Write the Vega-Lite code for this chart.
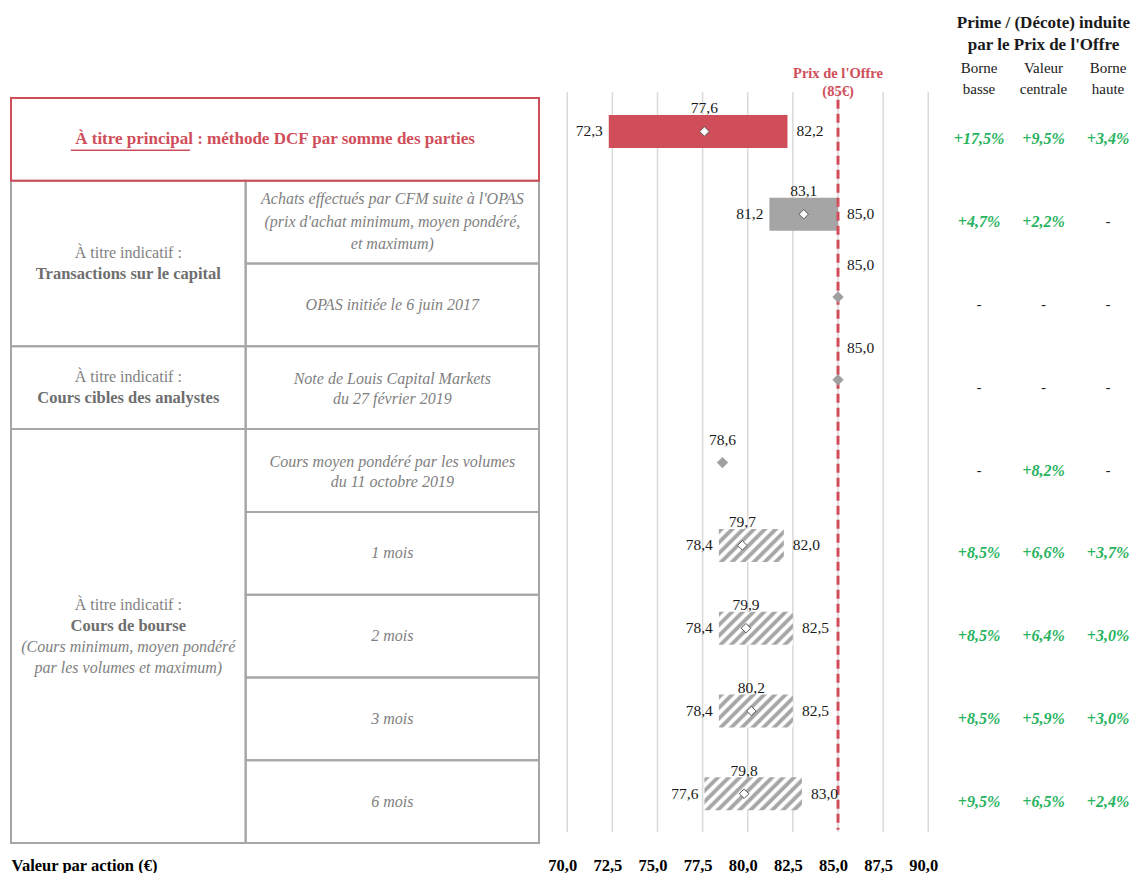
{
"$schema":"https://vega.github.io/schema/vega-lite/v6.json",
"background":"white",
"padding":{"left":10,"top":0,"right":0,"bottom":0},
"bounds":"flush",
"spacing":0,
"config":{"view":{"stroke":null},"font":"Liberation Serif","locale":{"number":{"decimal":",","thousands":" ","grouping":[3],"currency":["","€"]}}},
"datasets":{
"rows":[
{"r":0,"name":"DCF somme des parties","kind":"main","min":72.3,"mid":77.6,"max":82.2},
{"r":1,"name":"Achats CFM","kind":"solid","min":81.2,"mid":83.1,"max":85.0},
{"r":2,"name":"OPAS","kind":"point","mid":85.0},
{"r":3,"name":"Note LCM","kind":"point","mid":85.0},
{"r":4,"name":"CMPV","kind":"point","mid":78.6},
{"r":5,"name":"1 mois","kind":"hatch","min":78.4,"mid":79.7,"max":82.0},
{"r":6,"name":"2 mois","kind":"hatch","min":78.4,"mid":79.9,"max":82.5},
{"r":7,"name":"3 mois","kind":"hatch","min":78.4,"mid":80.2,"max":82.5},
{"r":8,"name":"6 mois","kind":"hatch","min":77.6,"mid":79.8,"max":83.0}
],
"cells":[
{"col":"full","r0":0,"r1":1,"t_bold":"À titre principal : méthode DCF par somme des parties"},
{"col":"group","r0":1,"r1":3,"t_normal":"À titre indicatif :","t_bold":"Transactions sur le capital"},
{"col":"group","r0":3,"r1":4,"t_normal":"À titre indicatif :","t_bold":"Cours cibles des analystes"},
{"col":"group","r0":4,"r1":9,"t_normal":"À titre indicatif :","t_bold":"Cours de bourse","t_italic":"(Cours minimum, moyen pondéré\npar les volumes et maximum)"},
{"col":"detail","r0":1,"r1":2,"t_italic":"Achats effectués par CFM suite à l'OPAS\n(prix d'achat minimum, moyen pondéré,\net maximum)"},
{"col":"detail","r0":2,"r1":3,"t_italic":"OPAS initiée le 6 juin 2017"},
{"col":"detail","r0":3,"r1":4,"t_italic":"Note de Louis Capital Markets\ndu 27 février 2019"},
{"col":"detail","r0":4,"r1":5,"t_italic":"Cours moyen pondéré par les volumes\ndu 11 octobre 2019"},
{"col":"detail","r0":5,"r1":6,"t_italic":"1 mois"},
{"col":"detail","r0":6,"r1":7,"t_italic":"2 mois"},
{"col":"detail","r0":7,"r1":8,"t_italic":"3 mois"},
{"col":"detail","r0":8,"r1":9,"t_italic":"6 mois"}
],
"pct":[
{"r":0,"col":"Borne basse","v":"+17,5%"},{"r":0,"col":"Valeur centrale","v":"+9,5%"},{"r":0,"col":"Borne haute","v":"+3,4%"},
{"r":1,"col":"Borne basse","v":"+4,7%"},{"r":1,"col":"Valeur centrale","v":"+2,2%"},{"r":1,"col":"Borne haute","v":"-"},
{"r":2,"col":"Borne basse","v":"-"},{"r":2,"col":"Valeur centrale","v":"-"},{"r":2,"col":"Borne haute","v":"-"},
{"r":3,"col":"Borne basse","v":"-"},{"r":3,"col":"Valeur centrale","v":"-"},{"r":3,"col":"Borne haute","v":"-"},
{"r":4,"col":"Borne basse","v":"-"},{"r":4,"col":"Valeur centrale","v":"+8,2%"},{"r":4,"col":"Borne haute","v":"-"},
{"r":5,"col":"Borne basse","v":"+8,5%"},{"r":5,"col":"Valeur centrale","v":"+6,6%"},{"r":5,"col":"Borne haute","v":"+3,7%"},
{"r":6,"col":"Borne basse","v":"+8,5%"},{"r":6,"col":"Valeur centrale","v":"+6,4%"},{"r":6,"col":"Borne haute","v":"+3,0%"},
{"r":7,"col":"Borne basse","v":"+8,5%"},{"r":7,"col":"Valeur centrale","v":"+5,9%"},{"r":7,"col":"Borne haute","v":"+3,0%"},
{"r":8,"col":"Borne basse","v":"+9,5%"},{"r":8,"col":"Valeur centrale","v":"+6,5%"},{"r":8,"col":"Borne haute","v":"+2,4%"}
],
"ticks":[{"v":70},{"v":72.5},{"v":75},{"v":77.5},{"v":80},{"v":82.5},{"v":85},{"v":87.5},{"v":90}],
"offer":[{"price":85,"label":"Prix de l'Offre\n(85€)"}],
"colhead":[{"col":"Borne basse","h":"Borne\nbasse"},{"col":"Valeur centrale","h":"Valeur\ncentrale"},{"col":"Borne haute","h":"Borne\nhaute"}],
"title":[{"col":"Valeur centrale","t":"Prime / (Décote) induite\npar le Prix de l'Offre"}]
},
"hconcat":[
{
"width":528,"height":850,
"resolve":{"axis":{"x":"independent","y":"independent"}},
"layer":[
{"data":{"name":"cells"},"transform":[{"filter":"datum.col=='group'"}],
 "mark":{"type":"rect","fill":"white","fillOpacity":0,"stroke":"#a6a6a6","strokeWidth":2},
 "encoding":{
  "x":{"datum":0,"type":"quantitative","scale":{"domain":[0,9],"nice":false,"zero":false},"axis":{"title":"Valeur par action (€)","labels":false,"ticks":false,"domain":false,"grid":false,"titleAnchor":"start","titleAlign":"left","titleFontWeight":"bold","titleFontSize":16.5,"titleColor":"#000","titlePadding":7,"titleFont":"Liberation Serif"}},
  "x2":{"datum":4},
  "y":{"field":"r0","type":"quantitative","scale":{"domain":[-1.18386,9.08432],"reverse":true,"nice":false,"zero":false},"axis":null},
  "y2":{"field":"r1"}}},
{"data":{"name":"cells"},"transform":[{"filter":"datum.col=='detail'"}],
 "mark":{"type":"rect","fill":"white","fillOpacity":0,"stroke":"#a6a6a6","strokeWidth":2},
 "encoding":{
  "x":{"datum":4,"type":"quantitative","scale":{"domain":[0,9],"nice":false,"zero":false},"axis":null},
  "x2":{"datum":9},
  "y":{"field":"r0","type":"quantitative","scale":{"domain":[-1.18386,9.08432],"reverse":true,"nice":false,"zero":false},"axis":null},
  "y2":{"field":"r1"}}},
{"data":{"name":"cells"},"transform":[{"filter":"datum.col=='full'"}],
 "mark":{"type":"rect","fill":"white","fillOpacity":0,"stroke":"#d04e5a","strokeWidth":2},
 "encoding":{
  "x":{"datum":0,"type":"quantitative","scale":{"domain":[0,9],"nice":false,"zero":false},"axis":null},
  "x2":{"datum":9},
  "y":{"field":"r0","type":"quantitative","scale":{"domain":[-1.18386,9.08432],"reverse":true,"nice":false,"zero":false},"axis":null},
  "y2":{"field":"r1"}}},
{"data":{"name":"cells"},"transform":[{"filter":"datum.col=='full'"},{"fold":["r0","r1"],"as":["k","rv"]}],
 "mark":{"type":"text","font":"Liberation Serif","fontSize":17,"fontWeight":"bold","color":"#d04e5a","align":"center","baseline":"middle"},
 "encoding":{
  "x":{"datum":4.5,"type":"quantitative","scale":{"domain":[0,9],"nice":false,"zero":false},"axis":null},
  "y":{"field":"rv","aggregate":"mean","type":"quantitative","scale":{"domain":[-1.18386,9.08432],"reverse":true,"nice":false,"zero":false},"axis":null},
  "text":{"field":"t_bold"},"detail":{"field":"r0"}}},
{"data":{"name":"cells"},"transform":[{"filter":"datum.col=='full'"}],
 "mark":{"type":"rule","color":"#d04e5a","strokeWidth":1.5},
 "encoding":{
  "x":{"datum":1.02,"type":"quantitative","scale":{"domain":[0,9],"nice":false,"zero":false},"axis":null},
  "x2":{"datum":3.05},
  "y":{"datum":0.63,"type":"quantitative","scale":{"domain":[-1.18386,9.08432],"reverse":true,"nice":false,"zero":false},"axis":null}}},
{"data":{"name":"cells"},"transform":[{"filter":"datum.col=='group' && !datum.t_italic"},{"fold":["r0","r1"],"as":["k","rv"]}],
 "mark":{"type":"text","font":"Liberation Serif","fontSize":16,"color":"#7f7f7f","align":"center","baseline":"middle","dy":-10.5},
 "encoding":{
  "x":{"datum":2,"type":"quantitative","scale":{"domain":[0,9],"nice":false,"zero":false},"axis":null},
  "y":{"field":"rv","aggregate":"mean","type":"quantitative","scale":{"domain":[-1.18386,9.08432],"reverse":true,"nice":false,"zero":false},"axis":null},
  "text":{"field":"t_normal"},"detail":{"field":"r0"}}},
{"data":{"name":"cells"},"transform":[{"filter":"datum.col=='group' && !datum.t_italic"},{"fold":["r0","r1"],"as":["k","rv"]}],
 "mark":{"type":"text","font":"Liberation Serif","fontSize":16.5,"fontWeight":"bold","color":"#6e6e6e","align":"center","baseline":"middle","dy":10.5},
 "encoding":{
  "x":{"datum":2,"type":"quantitative","scale":{"domain":[0,9],"nice":false,"zero":false},"axis":null},
  "y":{"field":"rv","aggregate":"mean","type":"quantitative","scale":{"domain":[-1.18386,9.08432],"reverse":true,"nice":false,"zero":false},"axis":null},
  "text":{"field":"t_bold"},"detail":{"field":"r0"}}},
{"data":{"name":"cells"},"transform":[{"filter":"datum.col=='group' && datum.t_italic"},{"fold":["r0","r1"],"as":["k","rv"]}],
 "mark":{"type":"text","font":"Liberation Serif","fontSize":16,"color":"#7f7f7f","align":"center","baseline":"middle","dy":-31.5},
 "encoding":{
  "x":{"datum":2,"type":"quantitative","scale":{"domain":[0,9],"nice":false,"zero":false},"axis":null},
  "y":{"field":"rv","aggregate":"mean","type":"quantitative","scale":{"domain":[-1.18386,9.08432],"reverse":true,"nice":false,"zero":false},"axis":null},
  "text":{"field":"t_normal"},"detail":{"field":"r0"}}},
{"data":{"name":"cells"},"transform":[{"filter":"datum.col=='group' && datum.t_italic"},{"fold":["r0","r1"],"as":["k","rv"]}],
 "mark":{"type":"text","font":"Liberation Serif","fontSize":16.5,"fontWeight":"bold","color":"#6e6e6e","align":"center","baseline":"middle","dy":-10.5},
 "encoding":{
  "x":{"datum":2,"type":"quantitative","scale":{"domain":[0,9],"nice":false,"zero":false},"axis":null},
  "y":{"field":"rv","aggregate":"mean","type":"quantitative","scale":{"domain":[-1.18386,9.08432],"reverse":true,"nice":false,"zero":false},"axis":null},
  "text":{"field":"t_bold"},"detail":{"field":"r0"}}},
{"data":{"name":"cells"},"transform":[{"filter":"datum.col=='group' && datum.t_italic"},{"fold":["r0","r1"],"as":["k","rv"]}],
 "mark":{"type":"text","font":"Liberation Serif","fontSize":16,"fontStyle":"italic","color":"#7f7f7f","align":"center","baseline":"middle","dy":11,"lineBreak":"\n","lineHeight":21},
 "encoding":{
  "x":{"datum":2,"type":"quantitative","scale":{"domain":[0,9],"nice":false,"zero":false},"axis":null},
  "y":{"field":"rv","aggregate":"mean","type":"quantitative","scale":{"domain":[-1.18386,9.08432],"reverse":true,"nice":false,"zero":false},"axis":null},
  "text":{"field":"t_italic"},"detail":{"field":"r0"}}},
{"data":{"name":"cells"},"transform":[{"filter":"datum.col=='detail' && indexof(datum.t_italic,'\\n')<0"},{"fold":["r0","r1"],"as":["k","rv"]}],
 "mark":{"type":"text","font":"Liberation Serif","fontSize":16,"fontStyle":"italic","color":"#7f7f7f","align":"center","baseline":"middle"},
 "encoding":{
  "x":{"datum":6.5,"type":"quantitative","scale":{"domain":[0,9],"nice":false,"zero":false},"axis":null},
  "y":{"field":"rv","aggregate":"mean","type":"quantitative","scale":{"domain":[-1.18386,9.08432],"reverse":true,"nice":false,"zero":false},"axis":null},
  "text":{"field":"t_italic"},"detail":{"field":"r0"}}},
{"data":{"name":"cells"},"transform":[{"filter":"datum.col=='detail' && length(split(datum.t_italic,'\\n'))==2"},{"fold":["r0","r1"],"as":["k","rv"]}],
 "mark":{"type":"text","font":"Liberation Serif","fontSize":16,"fontStyle":"italic","color":"#7f7f7f","align":"center","baseline":"middle","lineBreak":"\n","lineHeight":20,"dy":-9},
 "encoding":{
  "x":{"datum":6.5,"type":"quantitative","scale":{"domain":[0,9],"nice":false,"zero":false},"axis":null},
  "y":{"field":"rv","aggregate":"mean","type":"quantitative","scale":{"domain":[-1.18386,9.08432],"reverse":true,"nice":false,"zero":false},"axis":null},
  "text":{"field":"t_italic"},"detail":{"field":"r0"}}},
{"data":{"name":"cells"},"transform":[{"filter":"datum.col=='detail' && length(split(datum.t_italic,'\\n'))==3"},{"fold":["r0","r1"],"as":["k","rv"]}],
 "mark":{"type":"text","font":"Liberation Serif","fontSize":16,"fontStyle":"italic","color":"#7f7f7f","align":"center","baseline":"middle","lineBreak":"\n","lineHeight":22.5,"dy":-23},
 "encoding":{
  "x":{"datum":6.5,"type":"quantitative","scale":{"domain":[0,9],"nice":false,"zero":false},"axis":null},
  "y":{"field":"rv","aggregate":"mean","type":"quantitative","scale":{"domain":[-1.18386,9.08432],"reverse":true,"nice":false,"zero":false},"axis":null},
  "text":{"field":"t_italic"},"detail":{"field":"r0"}}}
]
},
{
"width":402,"height":850,
"resolve":{"axis":{"x":"independent","y":"independent"}},
"layer":[
{"data":{"name":"ticks"},
 "mark":{"type":"rule","color":"#d9d9d9","strokeWidth":1.5},
 "encoding":{
  "x":{"field":"v","type":"quantitative","scale":{"domain":[68.435,90.706],"nice":false,"zero":false},"axis":{"values":[70,72.5,75,77.5,80,82.5,85,87.5,90],"format":".1f","labelFont":"Liberation Serif","labelFontSize":16.5,"labelFontWeight":"bold","labelColor":"#000","labelPadding":7,"labelOffset":-5,"domain":false,"ticks":false,"grid":false,"title":null,"labelFlush":false,"labelOverlap":false}},
  "y":{"datum":-0.07,"type":"quantitative","scale":{"domain":[-1.18386,9.08432],"reverse":true,"nice":false,"zero":false},"axis":null},
  "y2":{"datum":8.87}}},
{"data":{"name":"rows"},"transform":[{"filter":"datum.kind=='main'"}],
 "mark":{"type":"rect","color":"#d04e5a","yOffset":17,"y2Offset":50},
 "encoding":{
  "x":{"field":"min","type":"quantitative","scale":{"domain":[68.435,90.706],"nice":false,"zero":false},"axis":null},"x2":{"field":"max"},
  "y":{"field":"r","type":"quantitative","scale":{"domain":[-1.18386,9.08432],"reverse":true,"nice":false,"zero":false},"axis":null},"y2":{"field":"r"}}},
{"data":{"name":"rows"},"transform":[{"filter":"datum.kind=='solid'"}],
 "mark":{"type":"rect","color":"#a5a5a5","yOffset":17,"y2Offset":50},
 "encoding":{
  "x":{"field":"min","type":"quantitative","scale":{"domain":[68.435,90.706],"nice":false,"zero":false},"axis":null},"x2":{"field":"max"},
  "y":{"field":"r","type":"quantitative","scale":{"domain":[-1.18386,9.08432],"reverse":true,"nice":false,"zero":false},"axis":null},"y2":{"field":"r"}}},
{"data":{"name":"rows"},"transform":[{"filter":"datum.name=='1 mois'"}],
 "mark":{"type":"rect","yOffset":17,"y2Offset":50,"fill":{"gradient":"linear","x1":0,"y1":0,"x2":1.199,"y2":0.608,"stops":[
{"offset":0,"color":"#ffffff"},
{"offset":0.0111,"color":"#a6a6a6"},{"offset":0.0444,"color":"#a6a6a6"},{"offset":0.0667,"color":"#ffffff"},{"offset":0.1,"color":"#ffffff"},
{"offset":0.1222,"color":"#a6a6a6"},{"offset":0.1556,"color":"#a6a6a6"},{"offset":0.1778,"color":"#ffffff"},{"offset":0.2111,"color":"#ffffff"},
{"offset":0.2333,"color":"#a6a6a6"},{"offset":0.2667,"color":"#a6a6a6"},{"offset":0.2889,"color":"#ffffff"},{"offset":0.3222,"color":"#ffffff"},
{"offset":0.3444,"color":"#a6a6a6"},{"offset":0.3778,"color":"#a6a6a6"},{"offset":0.4,"color":"#ffffff"},{"offset":0.4333,"color":"#ffffff"},
{"offset":0.4556,"color":"#a6a6a6"},{"offset":0.4889,"color":"#a6a6a6"},{"offset":0.5111,"color":"#ffffff"},{"offset":0.5444,"color":"#ffffff"},
{"offset":0.5667,"color":"#a6a6a6"},{"offset":0.6,"color":"#a6a6a6"},{"offset":0.6222,"color":"#ffffff"},{"offset":0.6556,"color":"#ffffff"},
{"offset":0.6778,"color":"#a6a6a6"},{"offset":0.7111,"color":"#a6a6a6"},{"offset":0.7333,"color":"#ffffff"},{"offset":0.7667,"color":"#ffffff"},
{"offset":0.7889,"color":"#a6a6a6"},{"offset":0.8222,"color":"#a6a6a6"},{"offset":0.8444,"color":"#ffffff"},{"offset":0.8778,"color":"#ffffff"},
{"offset":0.9,"color":"#a6a6a6"},{"offset":0.9333,"color":"#a6a6a6"},{"offset":0.9556,"color":"#ffffff"},{"offset":1,"color":"#ffffff"}]}},
 "encoding":{
  "x":{"field":"min","type":"quantitative","scale":{"domain":[68.435,90.706],"nice":false,"zero":false},"axis":null},"x2":{"field":"max"},
  "y":{"field":"r","type":"quantitative","scale":{"domain":[-1.18386,9.08432],"reverse":true,"nice":false,"zero":false},"axis":null},"y2":{"field":"r"}}},
{"data":{"name":"rows"},"transform":[{"filter":"datum.name=='2 mois' || datum.name=='3 mois'"}],
 "mark":{"type":"rect","yOffset":17,"y2Offset":50,"fill":{"gradient":"linear","x1":0,"y1":0,"x2":1.206,"y2":0.537,"stops":[
{"offset":0,"color":"#ffffff"},
{"offset":0.01,"color":"#a6a6a6"},{"offset":0.04,"color":"#a6a6a6"},{"offset":0.06,"color":"#ffffff"},{"offset":0.09,"color":"#ffffff"},
{"offset":0.11,"color":"#a6a6a6"},{"offset":0.14,"color":"#a6a6a6"},{"offset":0.16,"color":"#ffffff"},{"offset":0.19,"color":"#ffffff"},
{"offset":0.21,"color":"#a6a6a6"},{"offset":0.24,"color":"#a6a6a6"},{"offset":0.26,"color":"#ffffff"},{"offset":0.29,"color":"#ffffff"},
{"offset":0.31,"color":"#a6a6a6"},{"offset":0.34,"color":"#a6a6a6"},{"offset":0.36,"color":"#ffffff"},{"offset":0.39,"color":"#ffffff"},
{"offset":0.41,"color":"#a6a6a6"},{"offset":0.44,"color":"#a6a6a6"},{"offset":0.46,"color":"#ffffff"},{"offset":0.49,"color":"#ffffff"},
{"offset":0.51,"color":"#a6a6a6"},{"offset":0.54,"color":"#a6a6a6"},{"offset":0.56,"color":"#ffffff"},{"offset":0.59,"color":"#ffffff"},
{"offset":0.61,"color":"#a6a6a6"},{"offset":0.64,"color":"#a6a6a6"},{"offset":0.66,"color":"#ffffff"},{"offset":0.69,"color":"#ffffff"},
{"offset":0.71,"color":"#a6a6a6"},{"offset":0.74,"color":"#a6a6a6"},{"offset":0.76,"color":"#ffffff"},{"offset":0.79,"color":"#ffffff"},
{"offset":0.81,"color":"#a6a6a6"},{"offset":0.84,"color":"#a6a6a6"},{"offset":0.86,"color":"#ffffff"},{"offset":0.89,"color":"#ffffff"},
{"offset":0.91,"color":"#a6a6a6"},{"offset":0.94,"color":"#a6a6a6"},{"offset":0.96,"color":"#ffffff"},{"offset":1,"color":"#ffffff"}]}},
 "encoding":{
  "x":{"field":"min","type":"quantitative","scale":{"domain":[68.435,90.706],"nice":false,"zero":false},"axis":null},"x2":{"field":"max"},
  "y":{"field":"r","type":"quantitative","scale":{"domain":[-1.18386,9.08432],"reverse":true,"nice":false,"zero":false},"axis":null},"y2":{"field":"r"}}},
{"data":{"name":"rows"},"transform":[{"filter":"datum.name=='6 mois'"}],
 "mark":{"type":"rect","yOffset":17,"y2Offset":50,"fill":{"gradient":"linear","x1":0,"y1":0,"x2":1.201,"y2":0.406,"stops":[
{"offset":0,"color":"#ffffff"},
{"offset":0.0083,"color":"#a6a6a6"},{"offset":0.0333,"color":"#a6a6a6"},{"offset":0.05,"color":"#ffffff"},{"offset":0.075,"color":"#ffffff"},
{"offset":0.0917,"color":"#a6a6a6"},{"offset":0.1167,"color":"#a6a6a6"},{"offset":0.1333,"color":"#ffffff"},{"offset":0.1583,"color":"#ffffff"},
{"offset":0.175,"color":"#a6a6a6"},{"offset":0.2,"color":"#a6a6a6"},{"offset":0.2167,"color":"#ffffff"},{"offset":0.2417,"color":"#ffffff"},
{"offset":0.2583,"color":"#a6a6a6"},{"offset":0.2833,"color":"#a6a6a6"},{"offset":0.3,"color":"#ffffff"},{"offset":0.325,"color":"#ffffff"},
{"offset":0.3417,"color":"#a6a6a6"},{"offset":0.3667,"color":"#a6a6a6"},{"offset":0.3833,"color":"#ffffff"},{"offset":0.4083,"color":"#ffffff"},
{"offset":0.425,"color":"#a6a6a6"},{"offset":0.45,"color":"#a6a6a6"},{"offset":0.4667,"color":"#ffffff"},{"offset":0.4917,"color":"#ffffff"},
{"offset":0.5083,"color":"#a6a6a6"},{"offset":0.5333,"color":"#a6a6a6"},{"offset":0.55,"color":"#ffffff"},{"offset":0.575,"color":"#ffffff"},
{"offset":0.5917,"color":"#a6a6a6"},{"offset":0.6167,"color":"#a6a6a6"},{"offset":0.6333,"color":"#ffffff"},{"offset":0.6583,"color":"#ffffff"},
{"offset":0.675,"color":"#a6a6a6"},{"offset":0.7,"color":"#a6a6a6"},{"offset":0.7167,"color":"#ffffff"},{"offset":0.7417,"color":"#ffffff"},
{"offset":0.7583,"color":"#a6a6a6"},{"offset":0.7833,"color":"#a6a6a6"},{"offset":0.8,"color":"#ffffff"},{"offset":0.825,"color":"#ffffff"},
{"offset":0.8417,"color":"#a6a6a6"},{"offset":0.8667,"color":"#a6a6a6"},{"offset":0.8833,"color":"#ffffff"},{"offset":0.9083,"color":"#ffffff"},
{"offset":0.925,"color":"#a6a6a6"},{"offset":0.95,"color":"#a6a6a6"},{"offset":0.9667,"color":"#ffffff"},{"offset":1,"color":"#ffffff"}]}},
 "encoding":{
  "x":{"field":"min","type":"quantitative","scale":{"domain":[68.435,90.706],"nice":false,"zero":false},"axis":null},"x2":{"field":"max"},
  "y":{"field":"r","type":"quantitative","scale":{"domain":[-1.18386,9.08432],"reverse":true,"nice":false,"zero":false},"axis":null},"y2":{"field":"r"}}},
{"data":{"name":"offer"},
 "mark":{"type":"rule","color":"#d04e5a","strokeWidth":3,"strokeDash":[9,5]},
 "encoding":{
  "x":{"field":"price","type":"quantitative","scale":{"domain":[68.435,90.706],"nice":false,"zero":false},"axis":null},
  "y":{"datum":0.02,"type":"quantitative","scale":{"domain":[-1.18386,9.08432],"reverse":true,"nice":false,"zero":false},"axis":null},
  "y2":{"datum":8.84}}},
{"data":{"name":"offer"},
 "mark":{"type":"text","font":"Liberation Serif","fontSize":14.5,"fontWeight":"bold","color":"#d04e5a","align":"center","baseline":"middle","lineBreak":"\n","lineHeight":18},
 "encoding":{
  "x":{"field":"price","type":"quantitative","scale":{"domain":[68.435,90.706],"nice":false,"zero":false},"axis":null},
  "y":{"datum":-0.29,"type":"quantitative","scale":{"domain":[-1.18386,9.08432],"reverse":true,"nice":false,"zero":false},"axis":null},
  "text":{"field":"label"}}},
{"data":{"name":"rows"},"transform":[{"filter":"datum.kind!='point'"}],
 "mark":{"type":"point","shape":"diamond","filled":true,"fill":"white","stroke":"#555555","strokeWidth":1,"size":90,"opacity":1,"yOffset":33.5},
 "encoding":{
  "x":{"field":"mid","type":"quantitative","scale":{"domain":[68.435,90.706],"nice":false,"zero":false},"axis":null},
  "y":{"field":"r","type":"quantitative","scale":{"domain":[-1.18386,9.08432],"reverse":true,"nice":false,"zero":false},"axis":null}}},
{"data":{"name":"rows"},"transform":[{"filter":"datum.kind=='point'"}],
 "mark":{"type":"point","shape":"diamond","filled":true,"color":"#a0a0a0","size":130,"opacity":1,"yOffset":33.5},
 "encoding":{
  "x":{"field":"mid","type":"quantitative","scale":{"domain":[68.435,90.706],"nice":false,"zero":false},"axis":null},
  "y":{"field":"r","type":"quantitative","scale":{"domain":[-1.18386,9.08432],"reverse":true,"nice":false,"zero":false},"axis":null}}},
{"data":{"name":"rows"},"transform":[{"filter":"datum.kind!='point'"}],
 "mark":{"type":"text","font":"Liberation Serif","fontSize":15.5,"color":"#1a1a1a","align":"right","baseline":"middle","dx":-6,"yOffset":33.5},
 "encoding":{
  "x":{"field":"min","type":"quantitative","scale":{"domain":[68.435,90.706],"nice":false,"zero":false},"axis":null},
  "y":{"field":"r","type":"quantitative","scale":{"domain":[-1.18386,9.08432],"reverse":true,"nice":false,"zero":false},"axis":null},
  "text":{"field":"min","type":"quantitative","format":".1f"}}},
{"data":{"name":"rows"},"transform":[{"filter":"datum.kind!='point'"}],
 "mark":{"type":"text","font":"Liberation Serif","fontSize":15.5,"color":"#1a1a1a","align":"left","baseline":"middle","dx":9,"yOffset":33.5},
 "encoding":{
  "x":{"field":"max","type":"quantitative","scale":{"domain":[68.435,90.706],"nice":false,"zero":false},"axis":null},
  "y":{"field":"r","type":"quantitative","scale":{"domain":[-1.18386,9.08432],"reverse":true,"nice":false,"zero":false},"axis":null},
  "text":{"field":"max","type":"quantitative","format":".1f"}}},
{"data":{"name":"rows"},"transform":[{"filter":"datum.kind!='point'"}],
 "mark":{"type":"text","font":"Liberation Serif","fontSize":15.5,"color":"#1a1a1a","align":"center","baseline":"middle","yOffset":10.5},
 "encoding":{
  "x":{"field":"mid","type":"quantitative","scale":{"domain":[68.435,90.706],"nice":false,"zero":false},"axis":null},
  "y":{"field":"r","type":"quantitative","scale":{"domain":[-1.18386,9.08432],"reverse":true,"nice":false,"zero":false},"axis":null},
  "text":{"field":"mid","type":"quantitative","format":".1f"}}},
{"data":{"name":"rows"},"transform":[{"filter":"datum.kind=='point' && datum.mid==85"}],
 "mark":{"type":"text","font":"Liberation Serif","fontSize":15.5,"color":"#1a1a1a","align":"left","baseline":"middle","dx":9,"yOffset":1.5},
 "encoding":{
  "x":{"field":"mid","type":"quantitative","scale":{"domain":[68.435,90.706],"nice":false,"zero":false},"axis":null},
  "y":{"field":"r","type":"quantitative","scale":{"domain":[-1.18386,9.08432],"reverse":true,"nice":false,"zero":false},"axis":null},
  "text":{"field":"mid","type":"quantitative","format":".1f"}}},
{"data":{"name":"rows"},"transform":[{"filter":"datum.kind=='point' && datum.mid!=85"}],
 "mark":{"type":"text","font":"Liberation Serif","fontSize":15.5,"color":"#1a1a1a","align":"center","baseline":"middle","yOffset":11},
 "encoding":{
  "x":{"field":"mid","type":"quantitative","scale":{"domain":[68.435,90.706],"nice":false,"zero":false},"axis":null},
  "y":{"field":"r","type":"quantitative","scale":{"domain":[-1.18386,9.08432],"reverse":true,"nice":false,"zero":false},"axis":null},
  "text":{"field":"mid","type":"quantitative","format":".1f"}}}
]
},
{
"width":192,"height":850,
"layer":[
{"data":{"name":"pct"},"transform":[{"filter":"datum.v!='-'"}],
 "mark":{"type":"text","font":"Liberation Serif","fontSize":16,"fontWeight":"bold","fontStyle":"italic","color":"#27b35e","align":"center","baseline":"middle","yOffset":41.4},
 "encoding":{
  "x":{"field":"col","type":"nominal","scale":{"type":"point","domain":["Borne basse","Valeur centrale","Borne haute"],"padding":0.4884,"align":0.603},"axis":null},
  "y":{"field":"r","type":"quantitative","scale":{"domain":[-1.18386,9.08432],"reverse":true,"nice":false,"zero":false},"axis":null},
  "text":{"field":"v"}}},
{"data":{"name":"pct"},"transform":[{"filter":"datum.v=='-'"}],
 "mark":{"type":"text","font":"Liberation Serif","fontSize":14,"color":"#1a1a1a","align":"center","baseline":"middle","yOffset":41.4},
 "encoding":{
  "x":{"field":"col","type":"nominal","scale":{"type":"point","domain":["Borne basse","Valeur centrale","Borne haute"],"padding":0.4884,"align":0.603},"axis":null},
  "y":{"field":"r","type":"quantitative","scale":{"domain":[-1.18386,9.08432],"reverse":true,"nice":false,"zero":false},"axis":null},
  "text":{"field":"v"}}},
{"data":{"name":"colhead"},
 "mark":{"type":"text","font":"Liberation Serif","fontSize":15,"color":"#1a1a1a","align":"center","baseline":"middle","lineBreak":"\n","lineHeight":21},
 "encoding":{
  "x":{"field":"col","type":"nominal","scale":{"type":"point","domain":["Borne basse","Valeur centrale","Borne haute"],"padding":0.4884,"align":0.603},"axis":null},
  "y":{"datum":-0.3624,"type":"quantitative","scale":{"domain":[-1.18386,9.08432],"reverse":true,"nice":false,"zero":false},"axis":null},
  "text":{"field":"h"}}},
{"data":{"name":"title"},
 "mark":{"type":"text","font":"Liberation Serif","fontSize":17,"fontWeight":"bold","color":"#1a1a1a","align":"center","baseline":"middle","lineBreak":"\n","lineHeight":22},
 "encoding":{
  "x":{"field":"col","type":"nominal","scale":{"type":"point","domain":["Borne basse","Valeur centrale","Borne haute"],"padding":0.4884,"align":0.603},"axis":null},
  "y":{"datum":-0.9065,"type":"quantitative","scale":{"domain":[-1.18386,9.08432],"reverse":true,"nice":false,"zero":false},"axis":null},
  "text":{"field":"t"}}}
]
}
]
}
